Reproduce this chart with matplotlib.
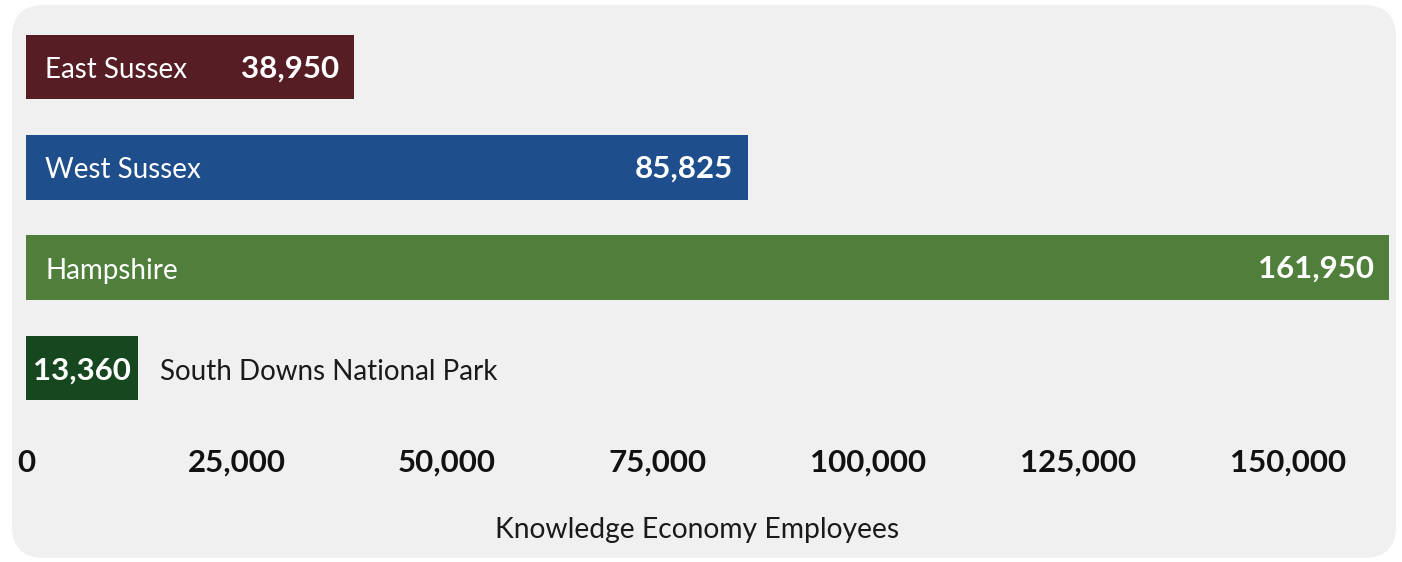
import matplotlib
matplotlib.use("Agg")
import matplotlib.pyplot as plt
from matplotlib.patches import FancyBboxPatch
from matplotlib.ticker import FuncFormatter

plt.rcParams['font.family'] = ['Lato', 'DejaVu Sans']

regions = ["East Sussex", "West Sussex", "Hampshire", "South Downs National Park"]
employees = [38950, 85825, 161950, 13360]
colors = ["#561e24", "#1f4e8c", "#4f7f3b", "#17471f"]
tick_values = [0, 25000, 50000, 75000, 100000, 125000, 150000]
x_label = "Knowledge Economy Employees"

W, H = 1402, 562
fig = plt.figure(figsize=(W / 100, H / 100), dpi=100, facecolor="white")

# rounded light-grey card behind the chart, laid out in pixel units
bg = fig.add_axes([0, 0, 1, 1], zorder=-1)
bg.set_xlim(0, W)
bg.set_ylim(H, 0)
bg.axis("off")
bg.add_patch(FancyBboxPatch((12, 5), 1396 - 12, 558 - 5,
                            boxstyle="round,pad=0,rounding_size=32",
                            facecolor="#f0f0f0", edgecolor="none"))

left, right = 26 / W, 1389 / W
top, bottom = 1 - 17 / H, 1 - 418 / H
ax = fig.add_axes([left, bottom, right - left, top - bottom])
ax.set_facecolor("none")

ypos = list(range(len(regions)))
ax.barh(ypos, employees, height=0.645, color=colors, zorder=2)
ax.set_xlim(0, max(employees))
ax.set_ylim(len(regions) - 0.5, -0.5)

for spine in ax.spines.values():
    spine.set_visible(False)
ax.set_yticks([])
ax.set_xticks(tick_values)
ax.xaxis.set_major_formatter(FuncFormatter(lambda v, p: f"{int(v):,}"))
ax.tick_params(axis="x", length=0, pad=22, labelsize=22.5, labelcolor="#111111")
for lbl in ax.get_xticklabels():
    lbl.set_fontweight("bold")

ax.set_xlabel(x_label, fontsize=20.3, color="#1a1a1a")
ax.xaxis.set_label_coords((697 - 26) / 1363, -112 / 401)
ax.xaxis.label.set_va("center")

name_fs, val_fs = 20, 22.5
for i, (name, val) in enumerate(zip(regions, employees)):
    if val > 30000:
        ax.annotate(name, (0, i), xytext=(19, -3), textcoords="offset pixels",
                    ha="left", va="center", color="white", fontsize=name_fs)
        ax.annotate(f"{val:,}", (val, i), xytext=(-15, -1), textcoords="offset pixels",
                    ha="right", va="center", color="white", fontsize=val_fs,
                    fontweight="bold")
    else:
        ax.annotate(f"{val:,}", (val / 2, i), xytext=(0, -3), textcoords="offset pixels",
                    ha="center", va="center",
                    color="white", fontsize=val_fs, fontweight="bold")
        ax.annotate(name, (val, i), xytext=(22, -4), textcoords="offset pixels",
                    ha="left", va="center", color="#1a1a1a", fontsize=name_fs)

fig.savefig("out.png", dpi=100, facecolor="white")
